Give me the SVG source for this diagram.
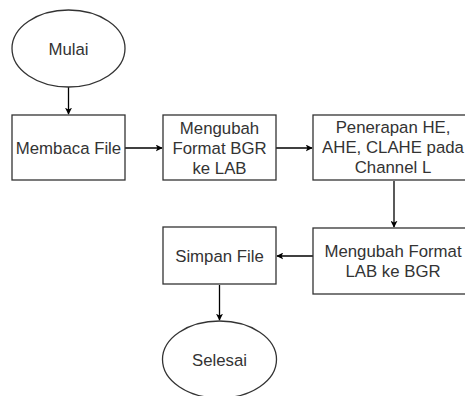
<svg xmlns="http://www.w3.org/2000/svg" width="465" height="396" viewBox="0 0 465 396">
<defs>
<style>
.shape{fill:#ffffff;stroke:#333333;stroke-width:1.3}
.lbl{font-family:"Liberation Sans",Arial,Helvetica,sans-serif;font-size:16.8px;fill:#333333;text-anchor:middle}
.edge{fill:none;stroke:#000000;stroke-width:1.3}
</style>
<marker id="arr" viewBox="0 0 10 10" refX="9" refY="5" markerWidth="7" markerHeight="7" markerUnits="userSpaceOnUse" orient="auto">
<path d="M0,0 L10,5 L0,10 L2.5,5 Z" fill="#000000"/>
</marker>
</defs>
<rect width="465" height="396" fill="#ffffff"/>
<g id="connectors">
<line class="edge" x1="68.5" y1="87" x2="68.5" y2="114" marker-end="url(#arr)"/>
<line class="edge" x1="125" y1="148" x2="162" y2="148" marker-end="url(#arr)"/>
<line class="edge" x1="276" y1="148" x2="312" y2="148" marker-end="url(#arr)"/>
<line class="edge" x1="394" y1="181" x2="394" y2="227" marker-end="url(#arr)"/>
<line class="edge" x1="313" y1="256" x2="277" y2="256" marker-end="url(#arr)"/>
<line class="edge" x1="219.5" y1="285" x2="219.5" y2="320" marker-end="url(#arr)"/>
</g>
<g id="mulai">
<ellipse class="shape" cx="68.5" cy="48.5" rx="56.5" ry="38.5"/>
<text class="lbl" x="68.5" y="54.5">Mulai</text>
</g>
<g id="membaca">
<rect class="shape" x="12" y="115" width="113" height="65"/>
<text class="lbl" x="68.5" y="154">Membaca File</text>
</g>
<g id="bgr2lab">
<rect class="shape" x="163" y="115" width="113" height="65"/>
<text class="lbl" x="219.5" y="133.5">Mengubah</text>
<text class="lbl" x="219.5" y="153.5">Format BGR</text>
<text class="lbl" x="219.5" y="173.5">ke LAB</text>
</g>
<g id="penerapan">
<rect class="shape" x="313" y="115" width="162" height="65"/>
<text class="lbl" x="393" y="133">Penerapan HE,</text>
<text class="lbl" x="393" y="153">AHE, CLAHE pada</text>
<text class="lbl" x="393" y="173">Channel L</text>
</g>
<g id="lab2bgr">
<rect class="shape" x="313" y="228" width="162" height="66"/>
<text class="lbl" x="393" y="257">Mengubah Format</text>
<text class="lbl" x="393" y="277">LAB ke BGR</text>
</g>
<g id="simpan">
<rect class="shape" x="163" y="227" width="113" height="57"/>
<text class="lbl" x="219.5" y="261.5">Simpan File</text>
</g>
<g id="selesai">
<ellipse class="shape" cx="219.5" cy="359.5" rx="57" ry="38.5"/>
<text class="lbl" x="219.5" y="365.5">Selesai</text>
</g>
</svg>
